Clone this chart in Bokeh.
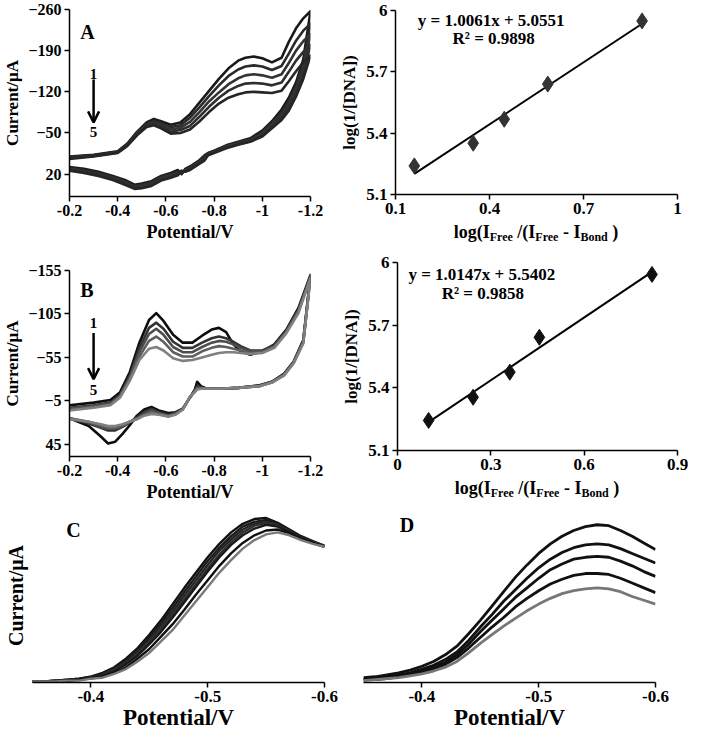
from bokeh.plotting import figure
from bokeh.models import Range1d, FixedTicker, Label, Arrow, OpenHead, Div
from bokeh.layouts import column, row
from bokeh.embed import file_html
from bokeh.resources import INLINE
import numpy as np

FONT = "Liberation Serif"

# ---------------- Panel A (CV, curves 1-5) ----------------
A_fwd_x = [-0.2, -0.3, -0.4, -0.44, -0.48, -0.52, -0.55, -0.58, -0.62, -0.66, -0.70, -0.74, -0.78,
           -0.82, -0.86, -0.90, -0.93, -0.965, -1.0, -1.04, -1.08, -1.11, -1.14, -1.17, -1.2]
A_fwd = [
    [-10, -13, -19, -32, -52, -68, -74, -70, -64, -68, -82, -102, -122, -142, -160, -173, -178, -180, -177, -170, -178, -205, -228, -245, -257],
    [-9, -12, -18, -31, -50, -66, -71, -67, -60, -63, -76, -94, -113, -131, -147, -158, -163, -165, -163, -157, -164, -185, -207, -224, -236],
    [-8, -11, -17, -30, -49, -64, -68, -64, -56, -59, -69, -86, -104, -119, -133, -143, -148, -150, -148, -144, -150, -169, -190, -206, -218],
    [-7, -11, -17, -29, -47, -62, -66, -61, -52, -55, -62, -78, -95, -110, -122, -130, -134, -135, -134, -131, -136, -154, -173, -188, -200],
    [-6, -10, -16, -28, -46, -60, -63, -58, -49, -50, -56, -70, -86, -100, -110, -116, -119, -120, -119, -118, -122, -138, -155, -170, -182],
]
A_rev_x = [-1.2, -1.17, -1.14, -1.11, -1.08, -1.04, -1.0, -0.95, -0.9, -0.85, -0.8, -0.775, -0.76, -0.74,
           -0.70, -0.68, -0.665, -0.65, -0.62, -0.58, -0.54, -0.5, -0.47, -0.43, -0.38, -0.32, -0.26, -0.2]
A_rev = [
    [-257, -175, -136, -110, -90, -70, -54, -41, -35, -29, -20, -16, -12, -4, 7, 11, 20, 13, 18, 23, 32, 36, 38, 30, 23, 16, 11, 8],
    [-236, -166, -130, -104, -85, -67, -51, -39, -34, -28, -19, -15, -10, -3, 9, 13, 19, 16, 20, 25, 34, 38, 40, 32, 25, 18, 13, 10],
    [-218, -158, -124, -99, -81, -64, -49, -38, -33, -27, -18, -14, -7, -1, 10, 14, 17, 18, 22, 27, 36, 40, 42, 34, 27, 20, 15, 11],
    [-200, -150, -118, -94, -77, -61, -46, -36, -31, -25, -17, -13, -5, 1, 11, 15, 15, 20, 24, 29, 38, 42, 43, 36, 28, 21, 16, 12],
    [-182, -142, -112, -88, -72, -58, -44, -35, -30, -24, -16, -12, -3, 2, 13, 16, 14, 22, 26, 31, 40, 44, 45, 38, 30, 23, 18, 14],
]
A_colors = ["#1a1a1a", "#2a2a2a", "#333333", "#2e2e2e", "#262626"]
A_xticks = [-0.2, -0.4, -0.6, -0.8, -1.0, -1.2]
A_xtick_labels = ["-0.2", "-0.4", "-0.6", "-0.8", "-1", "-1.2"]
A_yticks = [-260, -190, -120, -50, 20]

# ---------------- Panel B (CV, curves 1-5) ----------------
B_fwd_x = [-0.2, -0.3, -0.37, -0.41, -0.45, -0.49, -0.53, -0.56, -0.59, -0.63, -0.67, -0.71, -0.75,
           -0.79, -0.82, -0.85, -0.88, -0.91, -0.95, -1.0, -1.05, -1.1, -1.15, -1.2]
B_fwd = [
    [0, -3, -6, -15, -38, -72, -98, -106, -97, -81, -72, -72, -80, -87, -89, -84, -70, -62, -58, -62, -70, -87, -112, -150],
    [3, 0, -3, -12, -34, -66, -89, -95, -88, -73, -66, -66, -72, -77, -79, -77, -73, -68, -63, -63, -69, -86, -110, -149],
    [4, 1, -2, -11, -32, -61, -82, -88, -81, -67, -61, -61, -67, -72, -74, -73, -70, -66, -62, -62, -68, -85, -109, -148],
    [5, 2, -1, -10, -30, -56, -74, -79, -73, -61, -56, -56, -62, -66, -68, -67, -65, -63, -60, -61, -67, -84, -108, -147],
    [6, 3, 0, -9, -28, -52, -65, -67, -63, -54, -51, -52, -55, -58, -60, -61, -61, -60, -59, -60, -66, -83, -106, -146],
]
B_rev_x = [-1.2, -1.17, -1.13, -1.09, -1.04, -0.99, -0.9, -0.82, -0.77, -0.745, -0.73, -0.72, -0.7, -0.67,
           -0.64, -0.61, -0.57, -0.54, -0.51, -0.48, -0.45, -0.42, -0.39, -0.36, -0.33, -0.28, -0.2]
B_rev = [
    [-150, -75, -50, -36, -27, -23, -20, -19, -19, -22, -27, -18, -9, 4, 8, 9, 6, 2, 5, 12, 23, 33, 42, 44, 36, 24, 15],
    [-149, -74, -50, -36, -27, -23, -20, -19, -19, -20, -22, -17, -9, 4, 9, 11, 8, 4, 8, 14, 20, 25, 29, 29, 26, 21, 15],
    [-148, -73, -49, -35, -27, -22, -20, -19, -19, -20, -20, -16, -9, 4, 10, 12, 9, 6, 10, 15, 19, 24, 27, 27, 25, 20, 15],
    [-147, -72, -49, -35, -26, -22, -20, -19, -19, -19, -19, -16, -10, 5, 10, 13, 10, 8, 11, 16, 19, 23, 26, 26, 23, 19, 15],
    [-146, -71, -48, -34, -26, -22, -20, -19, -19, -19, -18, -15, -10, 5, 11, 13, 11, 10, 12, 16, 19, 22, 24, 24, 22, 19, 16],
]
B_colors = ["#0d0d0d", "#333333", "#4d4d4d", "#5e5e5e", "#808080"]
B_xticks = [-0.2, -0.4, -0.6, -0.8, -1.0, -1.2]
B_xtick_labels = ["-0.2", "-0.4", "-0.6", "-0.8", "-1", "-1.2"]
B_yticks = [-155, -105, -55, -5, 45]

# ---------------- Binding plots ----------------
A2_x = [0.16, 0.348, 0.447, 0.586, 0.887]
A2_y = [5.24, 5.351, 5.468, 5.64, 5.949]
A2_xticks = [0.1, 0.4, 0.7, 1.0]
A2_xtick_labels = ["0.1", "0.4", "0.7", "1"]
A2_eq = "y = 1.0061x + 5.0551"
A2_r2 = "R² = 0.9898"

B2_x = [0.10, 0.243, 0.361, 0.456, 0.818]
B2_y = [5.244, 5.355, 5.475, 5.642, 5.943]
B2_xticks = [0.0, 0.3, 0.6, 0.9]
B2_xtick_labels = ["0", "0.3", "0.6", "0.9"]
B2_eq = "y = 1.0147x + 5.5402"
B2_r2 = "R² = 0.9858"

LOG_yticks = [5.1, 5.4, 5.7, 6.0]
LOG_ytick_labels = ["5.1", "5.4", "5.7", "6"]
# x-axis title pieces: (text, is_subscript)
LOG_xlabel = [("log(I", False), ("Free", True), (" /(I", False), ("Free", True),
              (" - I", False), ("Bond", True), (" )", False)]

# ---------------- Panel C / D (DPV peaks) ----------------
CD_x = [-0.35, -0.36, -0.37, -0.38, -0.39, -0.40, -0.41, -0.42, -0.43, -0.44, -0.45, -0.46, -0.47,
        -0.48, -0.49, -0.50, -0.51, -0.52, -0.53, -0.54, -0.55, -0.56, -0.57, -0.58, -0.59, -0.60]
C_curves = [
    [1, 1, 2, 3, 4, 6, 10, 16, 25, 36, 50, 65, 82, 99, 115, 131, 145, 157, 166, 171, 172, 167, 160, 153, 148, 143],
    [1, 1, 2, 3, 4, 6, 9, 15, 23, 34, 47, 62, 78, 95, 111, 127, 141, 153, 163, 168, 170, 166, 159, 152, 147, 143],
    [1, 1, 2, 2, 3, 5, 8, 14, 21, 32, 44, 59, 74, 91, 107, 123, 138, 150, 160, 166, 168, 165, 158, 152, 147, 143],
    [1, 1, 2, 2, 3, 5, 8, 13, 20, 30, 42, 56, 71, 87, 103, 119, 134, 147, 157, 164, 167, 164, 158, 151, 147, 143],
    [1, 1, 1, 2, 3, 5, 7, 12, 19, 28, 40, 53, 68, 84, 100, 116, 131, 144, 154, 161, 165, 163, 157, 151, 146, 142],
    [1, 1, 1, 2, 3, 4, 6, 10, 16, 25, 35, 48, 61, 76, 92, 107, 122, 135, 146, 154, 159, 160, 156, 150, 146, 142],
    [1, 1, 1, 2, 2, 4, 5, 9, 14, 22, 31, 43, 55, 70, 85, 100, 115, 128, 140, 149, 155, 157, 154, 149, 145, 142],
]
C_colors = ["#111111", "#1c1c1c", "#262626", "#303030", "#1a1a1a", "#111111", "#7a7a7a"]

D_curves = [
    [5, 6, 8, 10, 13, 17, 22, 29, 38, 51, 65, 80, 95, 110, 123, 135, 145, 153, 159, 163, 165, 164, 159, 153, 146, 139],
    [4, 5, 6, 8, 10, 14, 18, 24, 32, 44, 58, 71, 85, 97, 109, 120, 129, 136, 141, 144, 145, 144, 140, 135, 130, 125],
    [3, 4, 5, 7, 9, 12, 16, 21, 29, 40, 53, 65, 77, 89, 99, 109, 118, 124, 129, 131, 132, 131, 127, 122, 116, 111],
    [3, 3, 4, 6, 8, 11, 14, 19, 26, 36, 47, 58, 68, 79, 88, 96, 103, 108, 112, 114, 114, 113, 109, 104, 99, 94],
    [2, 3, 4, 5, 7, 9, 12, 16, 22, 31, 41, 50, 59, 67, 75, 82, 88, 93, 96, 98, 99, 98, 95, 90, 86, 82],
]
D_colors = ["#111111", "#111111", "#111111", "#111111", "#777777"]
CD_xticks = [-0.4, -0.5, -0.6]
CD_xtick_labels = ["-0.4", "-0.5", "-0.6"]


def make_fig(w, h, xr, yr, l, r, t, b):
    p = figure(width=w, height=h, x_range=xr, y_range=yr, output_backend="svg",
               toolbar_location=None, min_border_left=l, min_border_right=r,
               min_border_top=t, min_border_bottom=b)
    p.outline_line_color = None
    p.grid.visible = False
    return p


def style_axes(p, tick_size, label_size):
    for ax in p.axis:
        ax.axis_line_color = "black"
        ax.axis_line_width = 1.5
        ax.major_tick_line_color = "black"
        ax.major_tick_line_width = 1.5
        ax.major_tick_out = 5
        ax.major_tick_in = 0
        ax.minor_tick_line_color = None
        ax.major_label_text_font = FONT
        ax.major_label_text_font_style = "bold"
        ax.major_label_text_font_size = f"{tick_size}px"
        ax.major_label_text_color = "black"
        ax.axis_label_text_font = FONT
        ax.axis_label_text_font_style = "bold"
        ax.axis_label_text_font_size = f"{label_size}px"
        ax.axis_label_text_color = "black"
        ax.major_label_standoff = 3
        ax.axis_label_standoff = 3


def txt(p, x, y, s, size, align="left", baseline="middle"):
    p.add_layout(Label(x=x, y=y, text=s, text_font=FONT,
                       text_font_style="bold", text_font_size=f"{size}px",
                       text_align=align, text_baseline=baseline, text_color="black"))


def cv_panel(w, h, yr, l, r, t, b, fx, fwd, rx, rev, colors, xticks, xlabels, yticks,
             letter, letter_y, n1_y, arrow_y0, arrow_y1, n5_y):
    p = make_fig(w, h, Range1d(-0.2, -1.2), yr, l, r, t, b)
    for f, rv, c in zip(fwd, rev, colors):
        p.line(fx + rx, f + rv, line_color=c, line_width=2.6, line_join="round")
    p.xaxis.ticker = FixedTicker(ticks=xticks)
    p.xaxis.major_label_overrides = {tk: lb for tk, lb in zip(xticks, xlabels)}
    p.yaxis.ticker = FixedTicker(ticks=yticks)
    p.xaxis.axis_label = "Potential/V"
    p.yaxis.axis_label = "Current/μA"
    style_axes(p, 16, 17)
    p.xaxis.axis_label_text_font_size = "18px"
    txt(p, -0.245, letter_y, letter, 20)
    txt(p, -0.3, n1_y, "1", 15, align="center")
    txt(p, -0.3, n5_y, "5", 15, align="center")
    p.add_layout(Arrow(end=OpenHead(size=11, line_width=2.5, line_color="black"),
                       x_start=-0.3, y_start=arrow_y0, x_end=-0.3, y_end=arrow_y1,
                       line_width=2.5, line_color="black"))
    return p


def log_panel(w, h, xr, l, r, t, b, xs, ys, xticks, xlabels, color, eq, r2, eq_pos, r2_pos):
    p = make_fig(w, h, xr, Range1d(5.1, 6.0), l, r, t, b)
    k, c0 = np.polyfit(xs, ys, 1)
    lx = [min(xs), max(xs)]
    p.line(lx, [k * v + c0 for v in lx], line_color="black", line_width=2)
    p.scatter(xs, ys, marker="diamond", size=16, fill_color=color, line_color=color)
    p.xaxis.ticker = FixedTicker(ticks=xticks)
    p.xaxis.major_label_overrides = {tk: lb for tk, lb in zip(xticks, xlabels)}
    p.yaxis.ticker = FixedTicker(ticks=LOG_yticks)
    p.yaxis.major_label_overrides = {tk: lb for tk, lb in zip(LOG_yticks, LOG_ytick_labels)}
    p.yaxis.axis_label = "log(1/[DNA])"
    style_axes(p, 17, 17)
    p.yaxis.axis_label_standoff = 4
    txt(p, eq_pos[0], eq_pos[1], eq, 17)
    txt(p, r2_pos[0], r2_pos[1], r2, 17)
    return p


def title_strip(w, h, left, frame_w):
    parts = []
    for s, sub in LOG_xlabel:
        s = s.replace(" ", "&nbsp;")
        parts.append(f'<sub style="font-size:12px;vertical-align:-3px;line-height:0">{s}</sub>' if sub else s)
    html = ("<div style=\"font-family:'Liberation Serif';font-weight:bold;font-size:18px;"
            f"line-height:20px;color:black;white-space:nowrap;text-align:center;"
            f"width:{frame_w}px;margin:0 0 0 {left}px;padding:0\">" + "".join(parts) + "</div>")
    return Div(text=html, width=w, height=h, margin=0,
               styles={"overflow": "hidden", "padding": "0px"})


# Row 1
pA = cv_panel(326, 248, Range1d(58, -260), 64, 16, 9, 52, A_fwd_x, A_fwd, A_rev_x, A_rev, A_colors,
              A_xticks, A_xtick_labels, A_yticks, "A", -222, -151, -141, -68, -51)
pA2 = log_panel(366, 222, Range1d(0.1, 1.0), 69, 15, 10, 28, A2_x, A2_y, A2_xticks, A2_xtick_labels,
                "#333333", A2_eq, A2_r2, (0.171, 5.95), (0.282, 5.862))
tA2 = title_strip(366, 26, 69, 282)

# Row 2
pB = cv_panel(326, 256, Range1d(59, -155), 64, 16, 22, 46, B_fwd_x, B_fwd, B_rev_x, B_rev, B_colors,
              B_xticks, B_xtick_labels, B_yticks, "B", -133, -95, -83, -30, -17)
pB2 = log_panel(366, 230, Range1d(0.0, 0.9), 71, 15, 14, 28, B2_x, B2_y, B2_xticks, B2_xtick_labels,
                "#111111", B2_eq, B2_r2, (0.035, 5.943), (0.142, 5.852))
tB2 = title_strip(366, 26, 71, 280)

# Row 3
pC = make_fig(345, 232, Range1d(-0.35, -0.6), Range1d(0, 182), 32, 21, 4, 54)
for cy, col in zip(C_curves, C_colors):
    pC.line(CD_x, cy, line_color=col, line_width=2.4, line_join="round")
pC.xaxis.ticker = FixedTicker(ticks=CD_xticks)
pC.xaxis.major_label_overrides = {tk: lb for tk, lb in zip(CD_xticks, CD_xtick_labels)}
pC.xaxis.axis_label = "Potential/V"
pC.yaxis.axis_label = "Current/μA"
style_axes(pC, 17, 23)
pC.xaxis.axis_label_standoff = 0
pC.yaxis.ticker = FixedTicker(ticks=[])
pC.yaxis.axis_line_color = None
pC.yaxis.major_tick_out = 0
pC.yaxis.major_label_standoff = 0
pC.yaxis.axis_label_text_font_size = "20px"
pC.yaxis.axis_label_standoff = 6
txt(pC, -0.379, 160, "C", 20)

pD = make_fig(347, 232, Range1d(-0.35, -0.6), Range1d(0, 182), 18, 37, 4, 54)
for dy, col in zip(D_curves, D_colors):
    pD.line(CD_x, dy, line_color=col, line_width=2.8, line_join="round")
pD.xaxis.ticker = FixedTicker(ticks=CD_xticks)
pD.xaxis.major_label_overrides = {tk: lb for tk, lb in zip(CD_xticks, CD_xtick_labels)}
pD.xaxis.axis_label = "Potential/V"
style_axes(pD, 17, 23)
pD.xaxis.axis_label_standoff = 0
pD.yaxis.visible = False
txt(pD, -0.381, 165, "D", 20)

layout = column(row(pA, column(pA2, tA2)), row(pB, column(pB2, tB2)), row(pC, pD))

with open("out.html", "w") as fh:
    fh.write(file_html(layout, INLINE))
